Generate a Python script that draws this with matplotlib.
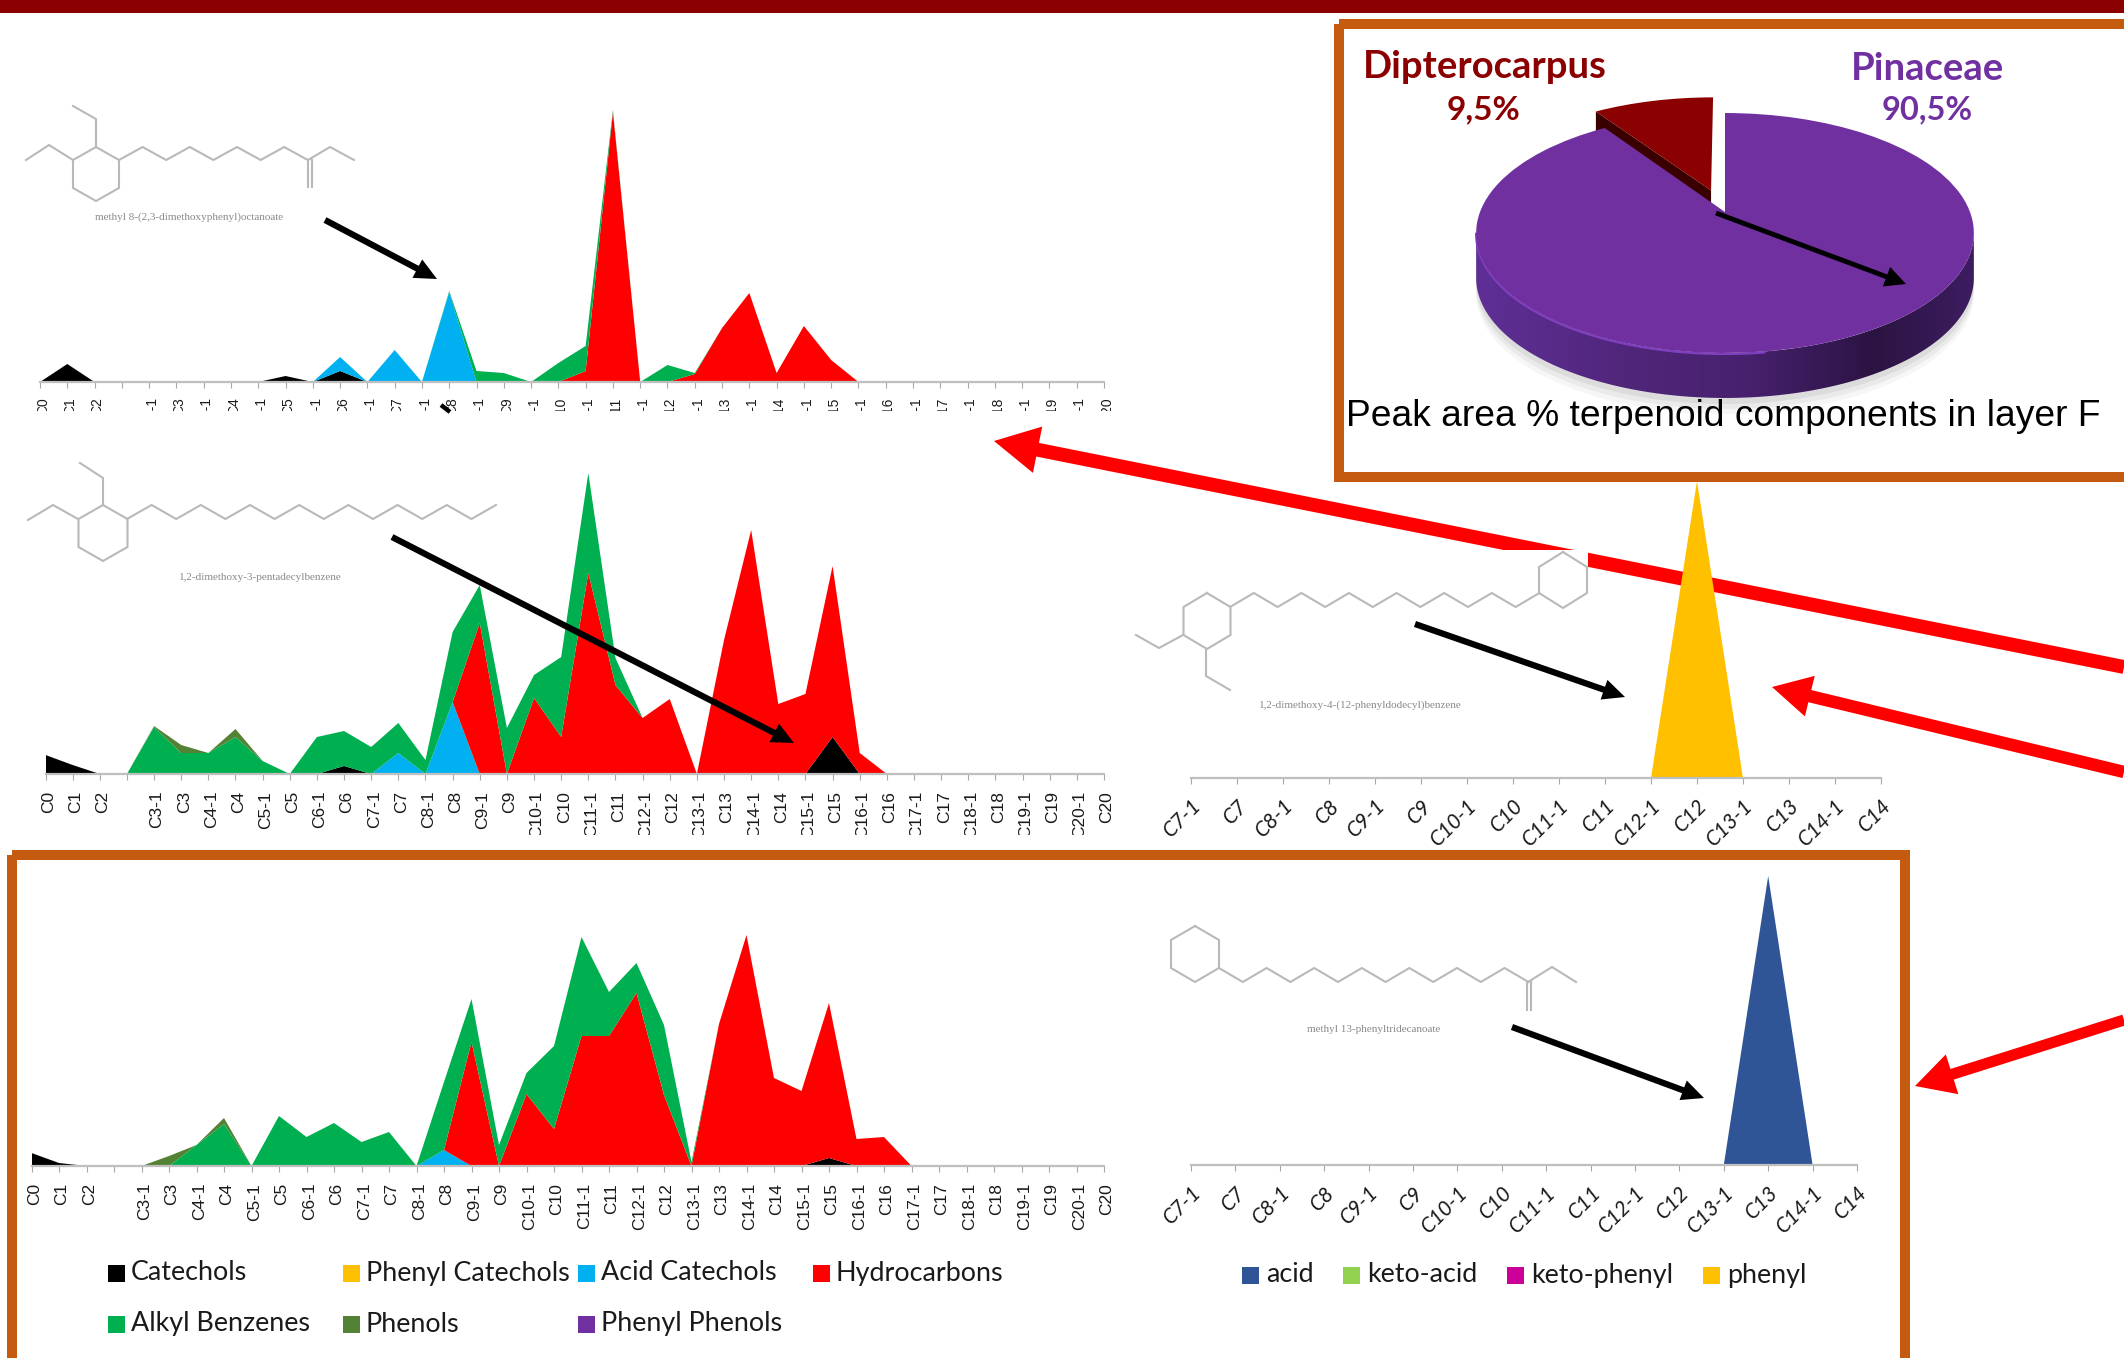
import numpy as np
import matplotlib
matplotlib.use("Agg")
import matplotlib.pyplot as plt
from matplotlib.patches import Rectangle, FancyArrowPatch, Polygon
from matplotlib.transforms import Bbox, TransformedBbox, Transform, Affine2D
from matplotlib.colors import LinearSegmentedColormap

W, H = 2124, 1358

# ---------------- data ----------------
categories = ["C0", "C1", "C2", "", "C3-1", "C3", "C4-1", "C4", "C5-1", "C5", "C6-1", "C6", "C7-1", "C7",
              "C8-1", "C8", "C9-1", "C9", "C10-1", "C10", "C11-1", "C11", "C12-1", "C12", "C13-1", "C13",
              "C14-1", "C14", "C15-1", "C15", "C16-1", "C16", "C17-1", "C17", "C18-1", "C18", "C19-1", "C19",
              "C20-1", "C20"]
categories_r1 = ["C7-1", "C7", "C8-1", "C8", "C9-1", "C9", "C10-1", "C10", "C11-1", "C11", "C12-1", "C12",
                 "C13-1", "C13", "C14-1", "C14"]
categories_r2 = categories_r1

legend_names = ["Catechols", "Phenyl Catechols", "Acid Catechols", "Hydrocarbons",
                "Alkyl Benzenes", "Phenols", "Phenyl Phenols"]
legend_colors = ["#000000", "#FFC000", "#00B0F0", "#FF0000", "#00B050", "#548235", "#7030A0"]
legend2_names = ["acid", "keto-acid", "keto-phenyl", "phenyl"]
legend2_colors = ["#2F5597", "#92D050", "#CC0099", "#FFC000"]

# chart 1 (top left)
c1_cat = [0,18,0,0,0,0,0,0,0,6,0,11,0,0,0,0,0,0,0,0,0,0,0,0,0,0,0,0,0,0,0,0,0,0,0,0,0,0,0,0]
c1_acid = [0,0,0,0,0,0,0,0,0,0,0,14,0,32,0,90,0,0,0,0,0,0,0,0,0,0,0,0,0,0,0,0,0,0,0,0,0,0,0,0]
c1_hyd = [0,0,0,0,0,0,0,0,0,0,0,0,0,0,0,0,0,0,0,0,11,270,0,0,8,54,89,9,56,22,0,0,0,0,0,0,0,0,0,0]
c1_alk = [0,0,0,0,0,0,0,0,0,0,0,0,0,0,0,1,11,9,0,19,25,2,0,17,1,0,0,0,0,0,0,0,0,0,0,0,0,0,0,0]
c1_phe = [0]*40
# chart 2 (middle left)
c2_cat = [19,9,0,0,0,0,0,0,0,0,0,8,0,0,0,0,0,0,0,0,0,0,0,0,0,0,0,0,0,37,0,0,0,0,0,0,0,0,0,0]
c2_acid = [0,0,0,0,0,0,0,0,0,0,0,0,0,21,0,72,0,0,0,0,0,0,0,0,0,0,0,0,0,0,0,0,0,0,0,0,0,0,0,0]
c2_hyd = [0,0,0,0,0,0,0,0,0,0,0,0,0,0,0,0,151,0,76,37,201,89,56,75,0,134,244,70,80,171,21,0,0,0,0,0,0,0,0,0]
c2_alk = [0,0,0,0,47,21,21,37,13,0,37,35,27,30,14,70,38,46,23,80,100,27,0,0,0,0,0,0,0,0,0,0,0,0,0,0,0,0,0,0]
c2_phe = [0,0,0,0,1,8,0,8,0,0,0,0,0,0,0,0,0,0,0,0,0,0,0,0,0,0,0,0,0,0,0,0,0,0,0,0,0,0,0,0]
# chart 3 (bottom left)
c3_cat = [13,3,0,0,0,0,0,0,0,0,0,0,0,0,0,0,0,0,0,0,0,0,0,0,0,0,0,0,0,8,0,0,0,0,0,0,0,0,0,0]
c3_acid = [0,0,0,0,0,0,0,0,0,0,0,0,0,0,0,16,0,0,0,0,0,0,0,0,0,0,0,0,0,0,0,0,0,0,0,0,0,0,0,0]
c3_hyd = [0,0,0,0,0,0,0,0,0,0,0,0,0,0,0,0,124,0,72,37,130,130,173,71,0,142,231,88,75,155,27,29,0,0,0,0,0,0,0,0]
c3_alk = [0,0,0,0,0,0,21,42,0,50,29,43,24,34,0,68,43,21,21,83,99,44,30,70,4,0,0,0,0,0,0,0,0,0,0,0,0,0,0,0]
c3_phe = [0,0,0,0,0,10,0,6,0,0,0,0,0,0,0,0,0,0,0,0,0,0,0,0,0,0,0,0,0,0,0,0,0,0,0,0,0,0,0,0]
# right charts
r1_phenyl = [0,0,0,0,0,0,0,0,0,0,0,297,0,0,0,0]
r2_acid = [0,0,0,0,0,0,0,0,0,0,0,0,0,289,0,0]
# pie
pie_names = ["Pinaceae", "Dipterocarpus"]
pie_values = [90.5, 9.5]
pie_labels = ["90,5%", "9,5%"]
pie_colors = ["#7030A0", "#8B0000"]

MAIN_FONT = ["Liberation Sans", "DejaVu Sans"]
CAL_FONT = ["Lato", "DejaVu Sans"]

fig = plt.figure(figsize=(W / 100, H / 100), dpi=100, facecolor="white")

def full_axes(z):
    ax = fig.add_axes([0, 0, 1, 1], zorder=z)
    ax.set_xlim(0, W); ax.set_ylim(H, 0)
    ax.axis("off")
    ax.patch.set_alpha(0)
    return ax

bg = full_axes(0)
fg = full_axes(2)

def arrow(ax, p0, p1, tail, hw, hl, color, z=3):
    ax.add_patch(FancyArrowPatch(p0, p1, arrowstyle=f"simple,tail_width={tail},head_width={hw},head_length={hl}",
                                 mutation_scale=1, shrinkA=0, shrinkB=0, lw=0, color=color, zorder=z))

# red arrows below everything else
arrow(bg, (2124, 667), (994, 441), 10, 34, 32, "#FF0000")
arrow(bg, (2124, 772), (1772, 687), 9, 30, 28, "#FF0000")
arrow(bg, (2124, 1020), (1915, 1086), 8, 30, 28, "#FF0000")
bg.add_patch(Rectangle((1130, 550), 458, 240, fc="white", ec="none", zorder=4))

def chart(x0, x1, base, h, cats, series, colors, tick_font, clip=None, rot=90, pad=7.5, size=12.5, dx=3):
    ax = fig.add_axes([x0 / W, 1 - base / H, (x1 - x0) / W, h / H], zorder=1)
    ax.patch.set_alpha(0)
    x = np.arange(len(cats))
    ax.stackplot(x, *series, colors=colors, lw=0)
    ax.set_xlim(0, len(cats) - 1); ax.set_ylim(0, h)
    for s in ("top", "left", "right"):
        ax.spines[s].set_visible(False)
    ax.spines["bottom"].set_color("#bfbfbf"); ax.spines["bottom"].set_linewidth(1.6)
    ax.set_yticks([])
    ax.set_xticks(x)
    ax.tick_params(axis="x", length=4.6, width=0.8, color="#a6a6a6", pad=pad)
    labels = ax.set_xticklabels(cats, family=tick_font, fontsize=size, color="#1a1a1a")
    for l in labels:
        if rot == 90:
            l.set(rotation=90, ha="center", va="top")
        else:
            l.set(rotation=rot, ha="right", va="top", rotation_mode="anchor", style="italic")
        l.set_transform(l.get_transform() + Affine2D().translate(dx, 0))
        if clip:
            l.set_clip_box(TransformedBbox(Bbox([[0, 1 - clip[1] / H], [1, 1 - clip[0] / H]]), fig.transFigure))
            l.set_clip_on(True)
    return ax

stack_cols = ["#000000", "#00B0F0", "#FF0000", "#00B050", "#548235"]
chart(40, 1104, 382, 290, categories, [c1_cat, c1_acid, c1_hyd, c1_alk, c1_phe], stack_cols, MAIN_FONT,
      clip=(396, 410.5), size=10, pad=6.5)
chart(45.5, 1104, 774, 310, categories, [c2_cat, c2_acid, c2_hyd, c2_alk, c2_phe], stack_cols, MAIN_FONT, clip=(790, 835))
chart(31.5, 1104, 1166, 240, categories, [c3_cat, c3_acid, c3_hyd, c3_alk, c3_phe], stack_cols, MAIN_FONT)
chart(1191, 1881, 778, 300, categories_r1, [r1_phenyl], ["#FFC000"], CAL_FONT, rot=45, pad=8, size=15, dx=0)
chart(1191, 1857, 1165, 295, categories_r2, [r2_acid], ["#2F5597"], CAL_FONT, rot=45, pad=8, size=15, dx=0)

# stray mark from the first black arrow over the C8 label
fg.plot([441, 450], [405, 412], color="black", lw=3.2, solid_capstyle="butt", zorder=6)

# ---------------- molecules ----------------
MOL = "#b9b9b9"
def mol(ax, *lines):
    for pts in lines:
        a = np.array(pts, float)
        ax.plot(a[:, 0], a[:, 1], color=MOL, lw=1.5, solid_joinstyle="round", zorder=1)

def zig(x0, y0, dx, y1, n):
    ys = [y0 if i % 2 == 0 else y1 for i in range(n + 1)]
    return [(x0 + i * dx, ys[i]) for i in range(n + 1)]

def ring(cx, top, rx, h1, h2):
    return [(cx, top), (cx + rx, top + h1), (cx + rx, top + h2), (cx, top + h1 + h2), (cx - rx, top + h2),
            (cx - rx, top + h1), (cx, top)]

mol(fg, ring(96, 147, 23, 13, 41),
    [(96, 147), (96, 119), (73, 106)], [(73, 160), (49, 145), (26, 160)],
    zig(119, 160, 23.6, 147, 8), [(308, 160), (308, 187)], [(312, 160), (312, 187)],
    [(308, 160), (330, 147), (354, 160)])
mol(fg, ring(103, 505, 24.5, 14, 42),
    [(103, 505), (103, 478), (80, 463)], [(78, 519), (53, 505), (28, 520)],
    zig(127, 519, 24.6, 505, 15))
mol(fg, ring(1207, 593, 23.5, 14, 42),
    zig(1230, 607, 23.8, 593, 13), ring(1563, 552, 24, 15, 41),
    [(1183, 635), (1159, 648), (1136, 635)], [(1206, 649), (1206, 676), (1230, 690)])
mol(fg, ring(1195, 926, 24, 14, 42),
    zig(1219, 968, 23.8, 982, 13), [(1527, 982), (1527, 1010)], [(1531, 982), (1531, 1010)],
    [(1528, 982), (1552, 967), (1576, 982)])
for (cx, cy, s) in [(189, 217, "methyl 8-(2,3-dimethoxyphenyl)octanoate"),
                    (260, 578, "1,2-dimethoxy-3-pentadecylbenzene"),
                    (1360, 705, "1,2-dimethoxy-4-(12-phenyldodecyl)benzene"),
                    (1374, 1029, "methyl 13-phenyltridecanoate")]:
    fg.text(cx, cy, s, family="Liberation Serif", fontsize=8, color="#8a8a8a", ha="center", va="center")

# ---------------- black arrows ----------------
for p0, p1 in [((325, 220), (437, 279)), ((392, 537), (794, 743)), ((1415, 624), (1625, 697)),
               ((1512, 1027), (1704, 1098))]:
    arrow(fg, p0, p1, 4.5, 15, 16, "black", z=6)

# ---------------- frames ----------------
BROWN = "#C55A11"
fg.add_patch(Rectangle((0, 0), W, 12.5, fc="#8B0000", ec="none", zorder=2))
fg.add_patch(Rectangle((1339, 24), W, 453, fc="none", ec=BROWN, lw=7.2, zorder=2))
fg.add_patch(Rectangle((12, 855), 1893, 510, fc="none", ec=BROWN, lw=7.2, zorder=2))

# ---------------- 3D pie ----------------
class Persp(Transform):
    input_dims = output_dims = 2
    has_inverse = False
    is_separable = False
    def transform_non_affine(self, xy):
        xy = np.asarray(xy, float)
        d = 0.175 * xy[:, 1] + 1
        return np.column_stack((1725 + 245 * xy[:, 0] / d, (212 - 79.2 * xy[:, 1]) / d))

persp = Persp()
wedges, _ = fg.pie(pie_values, explode=[0, 0.2], startangle=90, counterclock=False, colors=pie_colors, frame=True)
fg.set_aspect("auto")
for w in wedges:
    w.set_transform(persp + fg.transData)
    w.set_clip_on(False)
    w.set_zorder(5)
    w.set_linewidth(0)

t = np.radians(np.linspace(190, 350, 200))
rim = persp.transform_non_affine(np.column_stack((np.cos(t), np.sin(t))))
DEPTH = 45
side = np.vstack((rim, (rim + [0, DEPTH])[::-1]))
for k, a in zip((16, 11, 6), (0.05, 0.07, 0.09)):
    fg.add_patch(Polygon(side + [0, k], fc="#555555", ec="none", alpha=a, zorder=3))
cmap = LinearSegmentedColormap.from_list("side", [(0, "#5f2f96"), (0.3, "#50267a"), (0.55, "#47216e"),
                                                  (0.8, "#2b1342"), (1, "#3d1d60")])
im = fg.imshow(np.linspace(0, 1, 256)[None, :], cmap=cmap, aspect="auto",
               extent=(rim[:, 0].min(), rim[:, 0].max(), rim[:, 1].max() + DEPTH, rim[:, 1].min()), zorder=4)
im.set_clip_path(Polygon(side, transform=fg.transData))
fg.plot(rim[:110, 0], rim[:110, 1] + 1, color="#7f3fbf", lw=1.6, zorder=4.5)

# dark cut side of the pulled-out slice (its left edge, drawn under the slices)
wd = wedges[1]
ang = np.radians(wd.theta2)
edge = persp.transform_non_affine(np.array([wd.center, (wd.center[0] + np.cos(ang), wd.center[1] + np.sin(ang))]))
fg.add_patch(Polygon(np.vstack((edge, (edge + [0, 32])[::-1])), fc="#3a0000", ec="none", zorder=4.6))
wedges[0].set_zorder(5.2)

fg.set_xlim(0, W); fg.set_ylim(H, 0)
fg.axis("off")

fg.text(1485, 67, pie_names[1], family=CAL_FONT, weight="bold", fontsize=27.5, color=pie_colors[1], ha="center", va="center", zorder=7)
fg.text(1484, 110, pie_labels[1], family=CAL_FONT, weight="bold", fontsize=24, color=pie_colors[1], ha="center", va="center", zorder=7)
fg.text(1927, 69, pie_names[0], family=CAL_FONT, weight="bold", fontsize=27.5, color=pie_colors[0], ha="center", va="center", zorder=7)
fg.text(1927, 110, pie_labels[0], family=CAL_FONT, weight="bold", fontsize=23.5, color=pie_colors[0], ha="center", va="center", zorder=7)
arrow(fg, (1716, 213), (1906, 284), 3.5, 15, 15, "black", z=6)
fg.text(1346, 417, "Peak area % terpenoid components in layer F", family=MAIN_FONT, fontsize=26.7, color="black",
        ha="left", va="center", zorder=7)

# ---------------- legends ----------------
col_x = [108, 343, 578, 813, 108, 343, 578]
row_y = [1273, 1273, 1273, 1273, 1324, 1324, 1324]
for x, y, n, c in zip(col_x, row_y, legend_names, legend_colors):
    fg.add_patch(Rectangle((x, y - 8.5), 17, 17, fc=c, ec="none", zorder=6))
    fg.text(x + 23, y, n, family=CAL_FONT, fontsize=19.4, color="#1a1a1a", ha="left", va="center", zorder=7)
for x, n, c in zip([1242, 1343, 1507, 1703], legend2_names, legend2_colors):
    fg.add_patch(Rectangle((x, 1267), 17, 17, fc=c, ec="none", zorder=6))
    fg.text(x + 24, 1275, n, family=CAL_FONT, fontsize=19.4, color="#1a1a1a", ha="left", va="center", zorder=7)

fig.savefig("out.png", dpi=100, facecolor="white")
